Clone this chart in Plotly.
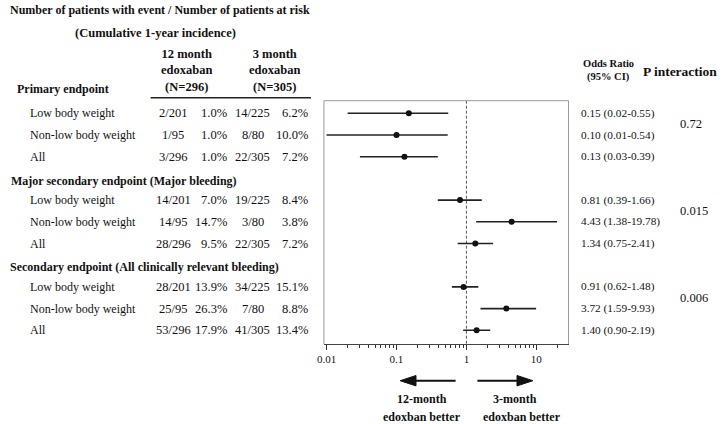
import plotly.graph_objects as go

W, H = 722, 424
FONT = "Liberation Serif, Times New Roman, serif"
TXT = "#111111"

# ---------------- data ----------------
groups = ["Primary endpoint",
          "Major secondary endpoint (Major bleeding)",
          "Secondary endpoint (All clinically relevant bleeding)"]
subgroups = ["Low body weight", "Non-low body weight", "All"]
ev12 = ["2/201", "1/95", "3/296", "14/201", "14/95", "28/296", "28/201", "25/95", "53/296"]
pct12 = ["1.0%", "1.0%", "1.0%", "7.0%", "14.7%", "9.5%", "13.9%", "26.3%", "17.9%"]
ev3 = ["14/225", "8/80", "22/305", "19/225", "3/80", "22/305", "34/225", "7/80", "41/305"]
pct3 = ["6.2%", "10.0%", "7.2%", "8.4%", "3.8%", "7.2%", "15.1%", "8.8%", "13.4%"]
odds = [0.15, 0.10, 0.13, 0.81, 4.43, 1.34, 0.91, 3.72, 1.40]
ci_lo = [0.02, 0.01, 0.03, 0.39, 1.38, 0.75, 0.62, 1.59, 0.90]
ci_hi = [0.55, 0.54, 0.39, 1.66, 19.78, 2.41, 1.48, 9.93, 2.19]
or_text = ["0.15 (0.02-0.55)", "0.10 (0.01-0.54)", "0.13 (0.03-0.39)",
           "0.81 (0.39-1.66)", "4.43 (1.38-19.78)", "1.34 (0.75-2.41)",
           "0.91 (0.62-1.48)", "3.72 (1.59-9.93)", "1.40 (0.90-2.19)"]
p_interaction = ["0.72", "0.015", "0.006"]
col12_header = ["12 month", "edoxaban", "(N=296)"]
col3_header = ["3 month", "edoxaban", "(N=305)"]
tick_vals = [0.01, 0.1, 1, 10]
tick_text = ["0.01", "0.1", "1", "10"]
minor_ticks = [m * d for d in (0.01, 0.1, 1) for m in range(2, 10)] + [20]

# ---------------- layout helpers ----------------
SLOT0, SLOT_H = 91.6, 21.7           # pixel centre of slot 0 and slot pitch
Y_TOP, Y_BOT = 100.7, 344.0           # plot box top / bottom in pixels
header_slot = [4 * g for g in range(len(groups))]
row_slot = [4 * g + 1 + j for g in range(len(groups)) for j in range(len(subgroups))]
header_dy = [-2.5, 2.5, 1.5]
header_x = [9.5, 3, 2]


def px(x):
    return x / W


def py(y):
    return 1 - y / H


def slot_px(s):
    return SLOT0 + SLOT_H * s


annotations = []


def ann(text, x, y, xanchor="left", size=12, bold=False, color=TXT):
    if bold:
        text = "<b>" + text + "</b>"
    annotations.append(dict(
        text=text, x=px(x), xref="paper", y=py(y), yref="paper",
        xanchor=xanchor, yanchor="middle", showarrow=False, borderpad=0, align="center",
        font=dict(family=FONT, size=size, color=color)))


fig = go.Figure()

y_lo_slot = (Y_TOP - SLOT0) / SLOT_H
y_hi_slot = (Y_BOT - SLOT0) / SLOT_H

# reference line at OR = 1
fig.add_trace(go.Scatter(x=[1, 1], y=[y_lo_slot, y_hi_slot], mode="lines",
                         line=dict(color="#555", width=1, dash="3px,2px"),
                         hoverinfo="skip", showlegend=False))

# CI lines
xs, ys = [], []
for l, h, s in zip(ci_lo, ci_hi, row_slot):
    xs += [l, h, None]
    ys += [s, s, None]
fig.add_trace(go.Scatter(x=xs, y=ys, mode="lines", line=dict(color="#222", width=1.6),
                         hoverinfo="skip", showlegend=False))
fig.add_trace(go.Scatter(x=odds, y=row_slot, mode="markers",
                         marker=dict(color="#111", size=6), showlegend=False))

# ---------------- table text ----------------
ann("Number of patients with event / Number of patients at risk", 2, 10, bold=True)
ann("(Cumulative 1-year incidence)", 150, 33, xanchor="center", size=12.5, bold=True)
ann("<br>".join(f"<b>{t}</b>" for t in col12_header), 181, 70.5, xanchor="center", size=12.5)
ann("<br>".join(f"<b>{t}</b>" for t in col3_header), 270, 70.5, xanchor="center", size=12.5)
ann("Odds Ratio", 607, 63, xanchor="center", size=10.5, bold=True)
ann("(95% CI)", 607, 77, xanchor="center", size=10.5, bold=True)
ann("P interaction", 680, 72, xanchor="center", size=13.5, bold=True)

for g, name in enumerate(groups):
    ann(name, header_x[g], slot_px(header_slot[g]) + header_dy[g], bold=True)
    ann(p_interaction[g], 679, slot_px(header_slot[g] + 1.5), size=12.5)

for i, s in enumerate(row_slot):
    y = slot_px(s)
    ann(subgroups[i % 3], 22, y)
    ann(ev12[i], 168, y, xanchor="center", size=12.5)
    ann(pct12[i], 223, y, xanchor="right", size=12.5)
    ann(ev3[i], 248, y, xanchor="center", size=12.5)
    ann(pct3[i], 305, y, xanchor="right", size=12.5)
    ann(or_text[i], 579, y, size=11.3)

# arrow captions
ann("12-month", 419, 399, xanchor="center", bold=True)
ann("edoxban better", 419, 417, xanchor="center", bold=True)
ann("3-month", 513, 399, xanchor="center", bold=True)
ann("edoxban better", 520, 417, xanchor="center", bold=True)

# ---------------- shapes ----------------
x0, x1 = px(320), px(567)
y0, y1 = py(Y_BOT), py(Y_TOP)
shapes = [
    dict(type="path", xref="paper", yref="paper",
         path=f"M {x0},{y0} L {x0},{y1} L {x1},{y1} L {x1},{y0}",
         line=dict(color="#9a9a9a", width=1)),
    dict(type="line", xref="paper", yref="paper", x0=px(145), x1=px(307), y0=py(97.7), y1=py(97.7),
         line=dict(color="#222", width=1.5)),
    # left arrow
    dict(type="line", xref="paper", yref="paper", x0=px(453), x1=px(411), y0=py(380.7), y1=py(380.7),
         line=dict(color="#111", width=2)),
    dict(type="path", xref="paper", yref="paper",
         path=f"M {px(397)},{py(380.7)} L {px(413)},{py(375.5)} L {px(413)},{py(385.9)} Z",
         fillcolor="#111", line=dict(color="#111", width=1)),
    # right arrow
    dict(type="line", xref="paper", yref="paper", x0=px(475), x1=px(517), y0=py(380.7), y1=py(380.7),
         line=dict(color="#111", width=2)),
    dict(type="path", xref="paper", yref="paper",
         path=f"M {px(531)},{py(380.7)} L {px(515)},{py(375.5)} L {px(515)},{py(385.9)} Z",
         fillcolor="#111", line=dict(color="#111", width=1)),
]

fig.update_layout(
    width=W, height=H, margin=dict(l=0, r=0, t=0, b=0),
    paper_bgcolor="white", plot_bgcolor="white",
    showlegend=False, annotations=annotations, shapes=shapes,
    xaxis=dict(type="log", range=[-2.038, 1.46], domain=[x0, x1],
               tickmode="array", tickvals=tick_vals, ticktext=tick_text,
               ticks="outside", ticklen=5, tickwidth=1, tickcolor="#333",
               showline=True, linecolor="#444", linewidth=1,
               showgrid=False, zeroline=False,
               tickfont=dict(family=FONT, size=11, color=TXT),
               minor=dict(tickmode="array", tickvals=minor_ticks, ticks="outside",
                          ticklen=3, tickwidth=1, tickcolor="#333", showgrid=False)),
    yaxis=dict(domain=[y0, y1], range=[y_hi_slot, y_lo_slot], visible=False, fixedrange=True),
)

fig.write_html("out.html")
